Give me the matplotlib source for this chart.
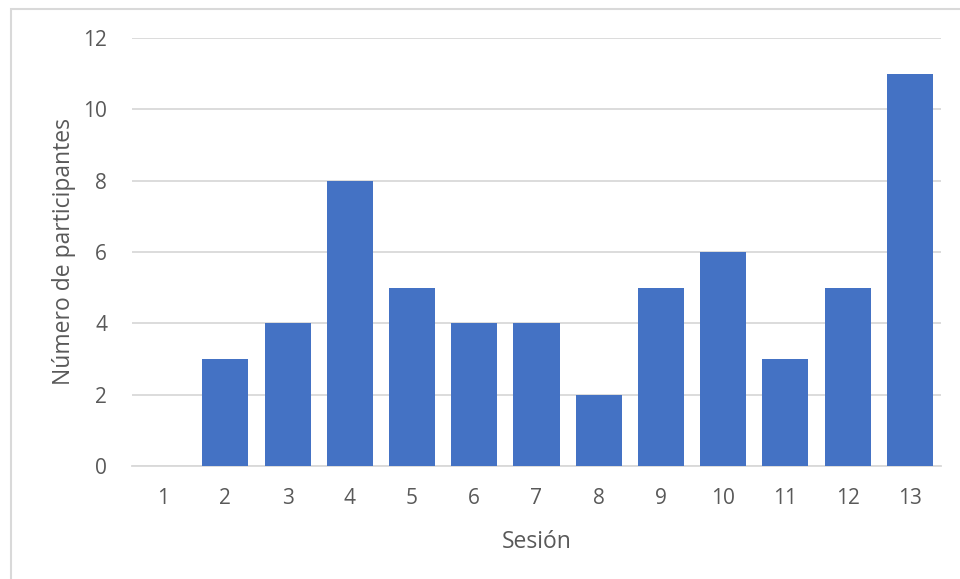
import matplotlib.pyplot as plt
from matplotlib.patches import Rectangle

# participantes por sesión
sesiones = ['1', '2', '3', '4', '5', '6', '7', '8', '9', '10', '11', '12', '13']
participantes = [0, 3, 4, 8, 5, 4, 4, 2, 5, 6, 3, 5, 11]
y_ticks = [0, 2, 4, 6, 8, 10, 12]

plt.rcParams['font.family'] = ['Open Sans', 'DejaVu Sans']
txt = '#595959'

fig = plt.figure(figsize=(9.6, 5.79), dpi=100)
ax = fig.add_axes([0.1375, 0.1952, 0.8427, 0.7392])

# chart frame
fig.patches.append(Rectangle((11 / 960, -0.05), 1.0, 1.05 - 9 / 579,
                             transform=fig.transFigure, fill=False,
                             edgecolor='#d9d9d9', linewidth=1.5))

x = list(range(len(sesiones)))
ax.bar(x, participantes, width=0.74, color='#4472C4', zorder=3)

ax.set_xlim(-0.5, len(sesiones) - 0.5)
ax.set_ylim(0, 12)
ax.set_yticks(y_ticks)
ax.set_xticks(x)
ax.set_xticklabels(sesiones)
ax.yaxis.grid(True, color='#d9d9d9', linewidth=1.3, zorder=0)

for s in ['top', 'right', 'left']:
    ax.spines[s].set_visible(False)
ax.spines['bottom'].set_color('#d9d9d9')
ax.spines['bottom'].set_linewidth(1.3)
ax.tick_params(length=0, labelsize=15, colors=txt)
ax.tick_params(axis='y', pad=18)
ax.tick_params(axis='x', pad=16)

ax.set_xlabel('Sesión', fontsize=16.5, color=txt, labelpad=15)
ax.set_ylabel('Número de participantes', fontsize=16.5, color=txt, labelpad=5)

fig.savefig('out.png', dpi=100)
